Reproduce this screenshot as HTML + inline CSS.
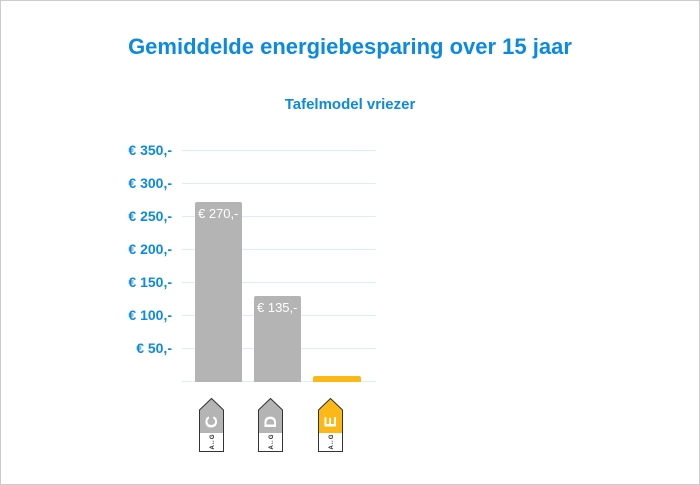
<!DOCTYPE html>
<html><head><style>
body{margin:0;width:700px;height:485px;background:#fff;font-family:"Liberation Sans",sans-serif;overflow:hidden}
.frame{position:absolute;left:0;top:0;width:698px;height:483px;border:1px solid #ccc}
.t{position:absolute;left:0;width:700px;text-align:center;color:#0b8ae0;font-weight:bold}
.yl{position:absolute;right:528px;color:#0b8ae0;font-weight:bold;font-size:14px}
.g{position:absolute;left:182px;width:194px;height:1px;background:#dbeefa}
.bar{position:absolute;background:#b4b4b4;border-radius:2px 2px 0 0}
.bl{position:absolute;color:#fff;font-size:13px}
</style></head><body>
<div class="frame"></div>
<div class="t" style="top:34px;font-size:22px">Gemiddelde energiebesparing over 15 jaar</div>
<div class="t" style="top:96px;font-size:15px">Tafelmodel vriezer</div>
<div class="g" style="top:150px"></div><div class="yl" style="top:142px">€ 350,-</div>
<div class="g" style="top:183px"></div><div class="yl" style="top:175px">€ 300,-</div>
<div class="g" style="top:216px"></div><div class="yl" style="top:208px">€ 250,-</div>
<div class="g" style="top:249px"></div><div class="yl" style="top:241px">€ 200,-</div>
<div class="g" style="top:282px"></div><div class="yl" style="top:274px">€ 150,-</div>
<div class="g" style="top:315px"></div><div class="yl" style="top:307px">€ 100,-</div>
<div class="g" style="top:348px"></div><div class="yl" style="top:340px">€ 50,-</div>
<div class="g" style="top:381px"></div>
<div class="bar" style="left:195px;top:202px;width:47px;height:180px"></div>
<div class="bl" style="left:198px;top:206px">€ 270,-</div>
<div class="bar" style="left:254px;top:296px;width:47px;height:86px"></div>
<div class="bl" style="left:257px;top:300px">€ 135,-</div>
<div class="bar" style="left:313px;top:376px;width:48px;height:6px;background:#fbb817"></div>
<svg style="position:absolute;left:0;top:0" width="700" height="485">
<g font-family="Liberation Sans,sans-serif" font-weight="bold">
<g transform="translate(199,398)">
<path d="M0.5,12 L12.5,0.5 L24.5,12 L24.5,53.5 L0.5,53.5 Z" fill="#b4b4b4" stroke="#333" stroke-width="1"/>
<rect x="1" y="35" width="23" height="18" fill="#fff"/>
<text transform="translate(18,24) rotate(-90)" text-anchor="middle" font-size="17" fill="#fff">C</text>
<text transform="translate(15,44) rotate(-90)" text-anchor="middle" font-size="6" fill="#222">A↔G</text>
</g>
<g transform="translate(258,398)">
<path d="M0.5,12 L12.5,0.5 L24.5,12 L24.5,53.5 L0.5,53.5 Z" fill="#b4b4b4" stroke="#333" stroke-width="1"/>
<rect x="1" y="35" width="23" height="18" fill="#fff"/>
<text transform="translate(18,24) rotate(-90)" text-anchor="middle" font-size="17" fill="#fff">D</text>
<text transform="translate(15,44) rotate(-90)" text-anchor="middle" font-size="6" fill="#222">A↔G</text>
</g>
<g transform="translate(318,398)">
<path d="M0.5,12 L12.5,0.5 L24.5,12 L24.5,53.5 L0.5,53.5 Z" fill="#fbb817" stroke="#333" stroke-width="1"/>
<rect x="1" y="35" width="23" height="18" fill="#fff"/>
<text transform="translate(18,24) rotate(-90)" text-anchor="middle" font-size="17" fill="#fff">E</text>
<text transform="translate(15,44) rotate(-90)" text-anchor="middle" font-size="6" fill="#222">A↔G</text>
</g>
</g></svg>
</body></html>
